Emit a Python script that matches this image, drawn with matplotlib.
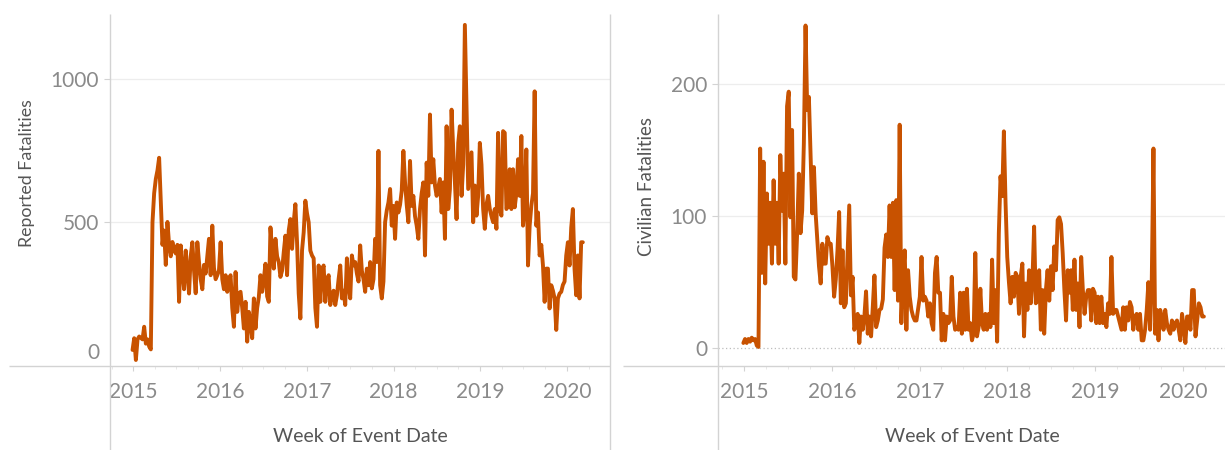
import matplotlib
matplotlib.use("Agg")
import matplotlib.pyplot as plt
import matplotlib.dates as mdates
from matplotlib.lines import Line2D
import pandas as pd

# first "Week of Event Date" in both series (weeks start on Sunday)
START_WEEK = "2014-12-28"

# weekly reported fatalities, one line per year
reported_fatalities = [
    53, 94, 18, 90, 100, 95, 90, 134, 75, 90, 65, 55,
    499, 600, 650, 680, 724, 570, 420, 470, 350, 500, 420, 380, 430, 400, 390, 420,
    221, 418, 330, 265, 400, 330, 250, 380, 429, 330, 251, 429, 360, 300, 265, 350,
    320, 380, 441, 314, 487, 340, 300, 314,
    # 2016
    330, 429, 300, 265, 314, 256, 300, 314, 200, 134, 325, 186,
    250, 256, 200, 128, 221, 82, 186, 150, 94, 233, 128, 200,
    238, 314, 256, 300, 354, 240, 221, 481, 400, 337, 441, 380,
    360, 308, 330, 395, 452, 314, 470, 510, 406, 500, 562, 429,
    250, 163, 400, 464,
    # 2017
    574, 530, 499, 400, 383, 373, 200, 134, 348, 221, 330, 348,
    221, 290, 314, 210, 244, 260, 210, 244, 300, 348, 233, 260,
    210, 373, 280, 233, 383, 348, 360, 320, 292, 418, 330, 300,
    256, 337, 279, 360, 268, 300, 441, 360, 748, 279, 233, 292,
    499, 540, 568, 615,
    # 2018
    487, 556, 441, 568, 533, 560, 609, 748, 638, 560, 499, 713,
    556, 591, 520, 487, 441, 545, 600, 638, 383, 707, 591, 875,
    638, 719, 627, 591, 620, 650, 533, 638, 441, 834, 545, 615,
    892, 753, 638, 510, 776, 834, 591, 700, 1188, 892, 615, 680,
    743, 499, 627, 522,
    # 2019
    591, 776, 700, 545, 476, 560, 591,
    545, 520, 499, 545, 476, 811, 545, 522, 817, 811, 545, 556,
    684, 545, 684, 551, 600, 719, 591, 800, 487, 556, 753, 348,
    487, 556, 600, 956, 487, 533, 383, 420, 348, 221, 337, 337,
    198, 279, 260, 233, 123, 233, 250, 256, 280,
    # 2020
    292, 383, 429, 348, 480, 545, 337, 244, 383, 233, 429, 429,
]

# weekly civilian fatalities, one line per year
civilian_fatalities = [
    4, 7, 4, 7, 5, 8, 6, 7, 2, 1,
    151, 57, 141, 49, 117, 79, 110, 64, 127, 79, 110, 64,
    146, 104, 132, 64, 183, 194, 99, 165, 54, 52, 87, 132,
    87, 104, 155, 244, 180, 190, 147, 102, 137, 102, 82, 62,
    49, 79, 64, 64, 84, 79,
    # 2016
    79, 62, 39, 52, 74, 103, 34, 74, 31,
    34, 70, 108, 40, 54, 14, 19, 26, 4, 24, 14, 24,
    43, 11, 24, 9, 31, 55, 16, 21, 29, 30, 37, 76,
    86, 69, 108, 69, 110, 44, 112, 36, 169, 19, 54, 74,
    14, 59, 39, 29, 24, 21, 21,
    # 2017
    30, 39, 69, 36, 39, 36, 24, 34, 19, 14, 57, 69,
    42, 42, 6, 26, 6, 24, 19, 21, 54, 24, 14, 16,
    14, 42, 11, 42, 14, 45, 14,
    19, 6, 11, 72, 9, 16, 45, 19, 14, 26, 14, 26,
    16, 67, 19, 44, 5, 87, 130, 115, 164,
    # 2018
    110, 69, 50, 34, 54, 39, 57, 54, 26, 54, 64, 9,
    49, 29, 59, 34, 52, 92, 34, 36, 59, 14, 44, 11,
    44, 59, 36, 62, 44, 77, 59, 97, 99, 94, 72, 44,
    21, 59, 42, 59, 29, 67, 29, 49, 16, 69, 44, 26,
    39, 44, 44, 21,
    # 2019
    45, 42, 19, 39, 19, 39, 19, 26, 16, 34, 26, 69,
    26, 29, 29, 24, 19, 14, 31, 14, 31, 21, 35, 31,
    14, 24, 26, 14, 26, 6, 6, 14, 29, 50, 14, 52,
    151, 11, 29, 6, 29, 24, 14, 29, 19, 14, 11, 21,
    14, 19, 21, 14,
    # 2020
    6, 26, 16, 4, 24, 24, 14, 44, 44, 9, 21, 34, 31, 24, 24,
]

reported_ticks = [500, 1000]
civilian_ticks = [0, 100, 200]

LINE_COLOR = "#c85200"
RULE_COLOR = "#d3d3d3"
GRID_COLOR = "#ededed"
TICK_TEXT = "#8a8a8a"
TITLE_TEXT = "#555555"
FONT = "Lato"
TICK_SIZE = 15
TITLE_SIZE = 14

W, H = 1225, 450


def fx(px):
    return px / W


def fy(py):
    return 1 - py / H


def rule(fig, x0, y0, x1, y1):
    fig.add_artist(Line2D([fx(x0), fx(x1)], [fy(y0), fy(y1)], transform=fig.transFigure,
                          color=RULE_COLOR, lw=1.0, solid_capstyle="butt"))


def year_days(year_frac):
    base = mdates.date2num(pd.Timestamp("2015-01-01"))
    return base + (year_frac - 2015) * 365.25


def draw_panel(ax, values, ticks, ylim, xlim):
    weeks = pd.date_range(START_WEEK, periods=len(values), freq="7D")
    ax.plot(weeks, values, color=LINE_COLOR, lw=2.8,
            solid_joinstyle="round", solid_capstyle="round")
    ax.set_xlim(year_days(xlim[0]), year_days(xlim[1]))
    ax.set_ylim(*ylim)

    for spine in ax.spines.values():
        spine.set_visible(False)
    ax.set_facecolor("none")

    ax.set_yticks(ticks)
    ax.set_yticklabels([str(t) for t in ticks])
    for t in ticks:
        if t != 0:
            ax.axhline(t, color=GRID_COLOR, lw=0.9, zorder=0)

    ax.xaxis.set_major_locator(mdates.YearLocator())
    ax.xaxis.set_major_formatter(mdates.DateFormatter("%Y"))
    ax.xaxis.set_minor_locator(mdates.MonthLocator(bymonth=[4, 7, 10]))
    ax.tick_params(axis="x", which="major", length=3.6, width=0.8, color=RULE_COLOR,
                   pad=8.0, labelsize=TICK_SIZE, labelcolor=TICK_TEXT)
    ax.tick_params(axis="x", which="minor", length=2.2, width=0.6, color="#e4e4e4")
    ax.tick_params(axis="y", length=4.3, width=0.8, color=RULE_COLOR,
                   pad=3.6, labelsize=TICK_SIZE, labelcolor=TICK_TEXT)
    for label in ax.get_xticklabels() + ax.get_yticklabels():
        label.set_fontfamily(FONT)


def main():
    plt.rcParams["font.family"] = [FONT, "DejaVu Sans"]
    fig = plt.figure(figsize=(W / 100, H / 100), dpi=100)
    fig.patch.set_facecolor("white")

    ax_rep = fig.add_axes([fx(110), fy(366), (610 - 110) / W, (366 - 14) / H])
    ax_civ = fig.add_axes([fx(718), fy(366), (1225 - 718) / W, (366 - 14) / H])

    draw_panel(ax_rep, reported_fatalities, reported_ticks,
               (-3, 1226), (2014.729, 2020.496))
    draw_panel(ax_civ, civilian_fatalities, civilian_ticks,
               (-13.4, 252.7), (2014.700, 2020.481))

    # Tableau zero line inside the civilian pane
    ax_civ.axhline(0, color="#bdbdbd", lw=0.9, linestyle=(0, (1, 2)), zorder=0)

    # the bottom "0" label sits a little above the axis rule
    fig.text(fx(99), fy(351), "0", ha="right", va="center_baseline",
             fontsize=TICK_SIZE, color=TICK_TEXT)

    # axis rules and pane dividers
    rule(fig, 110, 14, 110, 450)
    rule(fig, 9, 366, 610, 366)
    rule(fig, 609.5, 14, 609.5, 450)
    rule(fig, 623, 366, 1225, 366)
    rule(fig, 718, 14, 718, 450)

    fig.text(fx(27), fy(173), "Reported Fatalities", rotation=90,
             ha="center", va="center", fontsize=12.8, color=TITLE_TEXT)
    fig.text(fx(647), fy(187), "Civilian Fatalities", rotation=90,
             ha="center", va="center", fontsize=13.5, color=TITLE_TEXT)
    fig.text(fx(360), fy(436), "Week of Event Date",
             ha="center", va="center", fontsize=TITLE_SIZE, color=TITLE_TEXT)
    fig.text(fx(972), fy(436), "Week of Event Date",
             ha="center", va="center", fontsize=TITLE_SIZE, color=TITLE_TEXT)

    fig.savefig("out.png", dpi=100, facecolor="white")
    plt.close(fig)


if __name__ == "__main__":
    main()
